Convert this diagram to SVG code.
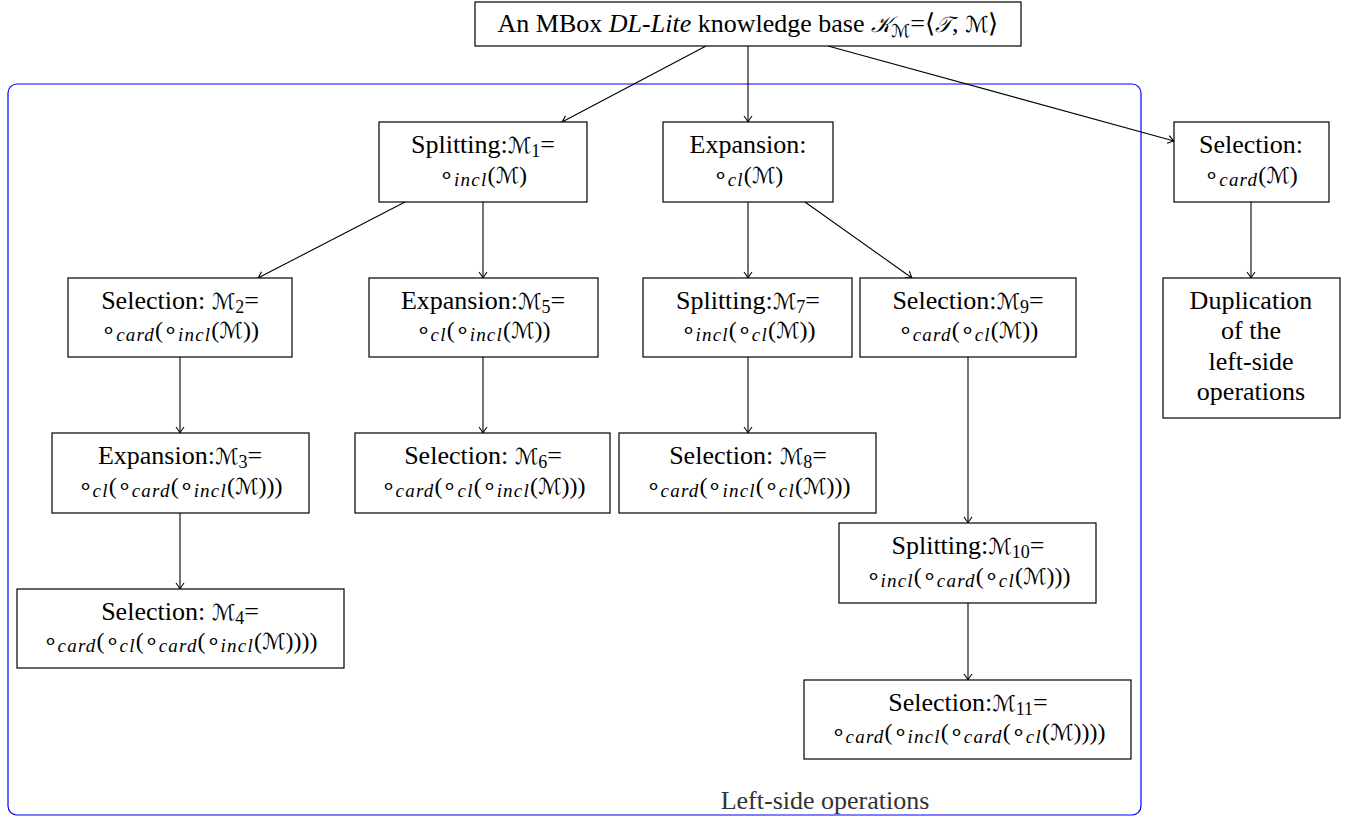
<svg xmlns="http://www.w3.org/2000/svg" width="1351" height="817" viewBox="0 0 1351 817">
<style>
text{font-family:"Liberation Serif",serif}
.box{fill:#fff;stroke:#000;stroke-width:1.2}
.t{font-size:26px;fill:#000;text-anchor:middle}
.m{font-size:24px;fill:#000;text-anchor:middle}
.sb{font-size:19px;font-style:italic;letter-spacing:1.2px}
.mc{font-family:"DejaVu Sans",sans-serif;font-size:22px;font-style:italic}
.ms{font-size:18px}
.conn line{stroke:#000;stroke-width:1.1;marker-end:url(#ah)}
.frame{fill:none;stroke:#0000ff;stroke-width:1.2}
.lbl{font-size:26px;fill:#333;text-anchor:middle}
</style>
<defs>
<marker id="ah" viewBox="-8 -5 10 10" refX="0" refY="0" markerWidth="10" markerHeight="10" orient="auto" markerUnits="userSpaceOnUse">
<path d="M-6,-4 Q-2,-1 0,0 Q-2,1 -6,4" fill="none" stroke="#000" stroke-width="1.1"/>
</marker>
</defs>
<rect width="1351" height="817" fill="#fff"/>
<g id="frame">
<rect class="frame" x="8" y="84" width="1133" height="731" rx="9"/>
<text class="lbl" x="825" y="809">Left-side operations</text>
</g>
<g class="conn" id="connectors">
<line x1="706" y1="46" x2="562" y2="122"/>
<line x1="748" y1="46" x2="748" y2="122"/>
<line x1="828" y1="46" x2="1174" y2="141"/>
<line x1="405" y1="202" x2="258" y2="278"/>
<line x1="483" y1="202" x2="483" y2="278"/>
<line x1="748" y1="202" x2="748" y2="278"/>
<line x1="805" y1="202" x2="912" y2="278"/>
<line x1="180" y1="357" x2="180" y2="433"/>
<line x1="180" y1="513" x2="180" y2="589"/>
<line x1="483" y1="357" x2="483" y2="433"/>
<line x1="748" y1="357" x2="748" y2="433"/>
<line x1="968" y1="357" x2="968" y2="523"/>
<line x1="968" y1="603" x2="968" y2="680"/>
<line x1="1251" y1="202" x2="1251" y2="278"/>
</g>
<g id="root">
<rect class="box" x="475" y="2" width="546" height="44"/>
<text class="t" x="748" y="32">An MBox <tspan font-style="italic">DL-Lite</tspan> knowledge base <tspan class="mc" font-size="24px">𝒦</tspan><tspan class="mc ms" dy="5">ℳ</tspan><tspan dy="-5">=⟨</tspan><tspan class="mc" font-size="24px">𝒯</tspan>, <tspan class="mc" font-size="24px">ℳ</tspan>⟩</text>
</g>
<g id="n1">
<rect class="box" x="379" y="122" width="208" height="80"/>
<text class="t" x="483" y="153">Splitting:<tspan class="mc" font-size="25px">ℳ</tspan><tspan class="ms" dy="4">1</tspan><tspan dy="-4">=</tspan></text>
<text class="m" x="483" y="183">∘<tspan class="sb" dy="3">incl</tspan><tspan dy="-3">(</tspan><tspan class="mc">ℳ</tspan>)</text>
</g>
<g id="nexp">
<rect class="box" x="663" y="122" width="170" height="80"/>
<text class="t" x="748" y="153">Expansion:</text>
<text class="m" x="748" y="183">∘<tspan class="sb" dy="3">cl</tspan><tspan dy="-3">(</tspan><tspan class="mc">ℳ</tspan>)</text>
</g>
<g id="nsel">
<rect class="box" x="1174" y="122" width="155" height="80"/>
<text class="t" x="1251" y="153">Selection:</text>
<text class="m" x="1251" y="183">∘<tspan class="sb" dy="3">card</tspan><tspan dy="-3">(</tspan><tspan class="mc">ℳ</tspan>)</text>
</g>
<g id="ndup">
<rect class="box" x="1163" y="278" width="177" height="140"/>
<text class="t" x="1251" y="309">Duplication</text>
<text class="t" x="1251" y="339">of the</text>
<text class="t" x="1251" y="370">left-side</text>
<text class="t" x="1251" y="400">operations</text>
</g>
<g id="n2">
<rect class="box" x="68" y="278" width="224" height="79"/>
<text class="t" x="180" y="309">Selection: <tspan class="mc" font-size="25px">ℳ</tspan><tspan class="ms" dy="4">2</tspan><tspan dy="-4">=</tspan></text>
<text class="m" x="180" y="338">∘<tspan class="sb" dy="3">card</tspan><tspan dy="-3">(∘</tspan><tspan class="sb" dy="3">incl</tspan><tspan dy="-3">(</tspan><tspan class="mc">ℳ</tspan>))</text>
</g>
<g id="n5">
<rect class="box" x="369" y="278" width="229" height="79"/>
<text class="t" x="483" y="309">Expansion:<tspan class="mc" font-size="25px">ℳ</tspan><tspan class="ms" dy="4">5</tspan><tspan dy="-4">=</tspan></text>
<text class="m" x="483" y="338">∘<tspan class="sb" dy="3">cl</tspan><tspan dy="-3">(∘</tspan><tspan class="sb" dy="3">incl</tspan><tspan dy="-3">(</tspan><tspan class="mc">ℳ</tspan>))</text>
</g>
<g id="n7">
<rect class="box" x="643" y="278" width="209" height="79"/>
<text class="t" x="748" y="309">Splitting:<tspan class="mc" font-size="25px">ℳ</tspan><tspan class="ms" dy="4">7</tspan><tspan dy="-4">=</tspan></text>
<text class="m" x="748" y="338">∘<tspan class="sb" dy="3">incl</tspan><tspan dy="-3">(∘</tspan><tspan class="sb" dy="3">cl</tspan><tspan dy="-3">(</tspan><tspan class="mc">ℳ</tspan>))</text>
</g>
<g id="n9">
<rect class="box" x="860" y="278" width="216" height="79"/>
<text class="t" x="968" y="309">Selection:<tspan class="mc" font-size="25px">ℳ</tspan><tspan class="ms" dy="4">9</tspan><tspan dy="-4">=</tspan></text>
<text class="m" x="968" y="338">∘<tspan class="sb" dy="3">card</tspan><tspan dy="-3">(∘</tspan><tspan class="sb" dy="3">cl</tspan><tspan dy="-3">(</tspan><tspan class="mc">ℳ</tspan>))</text>
</g>
<g id="n3">
<rect class="box" x="52" y="433" width="257" height="80"/>
<text class="t" x="180" y="464">Expansion:<tspan class="mc" font-size="25px">ℳ</tspan><tspan class="ms" dy="4">3</tspan><tspan dy="-4">=</tspan></text>
<text class="m" x="180" y="494">∘<tspan class="sb" dy="3">cl</tspan><tspan dy="-3">(∘</tspan><tspan class="sb" dy="3">card</tspan><tspan dy="-3">(∘</tspan><tspan class="sb" dy="3">incl</tspan><tspan dy="-3">(</tspan><tspan class="mc">ℳ</tspan>)))</text>
</g>
<g id="n6">
<rect class="box" x="355" y="433" width="255" height="80"/>
<text class="t" x="483" y="464">Selection: <tspan class="mc" font-size="25px">ℳ</tspan><tspan class="ms" dy="4">6</tspan><tspan dy="-4">=</tspan></text>
<text class="m" x="483" y="494">∘<tspan class="sb" dy="3">card</tspan><tspan dy="-3">(∘</tspan><tspan class="sb" dy="3">cl</tspan><tspan dy="-3">(∘</tspan><tspan class="sb" dy="3">incl</tspan><tspan dy="-3">(</tspan><tspan class="mc">ℳ</tspan>)))</text>
</g>
<g id="n8">
<rect class="box" x="619" y="433" width="257" height="80"/>
<text class="t" x="748" y="464">Selection: <tspan class="mc" font-size="25px">ℳ</tspan><tspan class="ms" dy="4">8</tspan><tspan dy="-4">=</tspan></text>
<text class="m" x="748" y="494">∘<tspan class="sb" dy="3">card</tspan><tspan dy="-3">(∘</tspan><tspan class="sb" dy="3">incl</tspan><tspan dy="-3">(∘</tspan><tspan class="sb" dy="3">cl</tspan><tspan dy="-3">(</tspan><tspan class="mc">ℳ</tspan>)))</text>
</g>
<g id="n4">
<rect class="box" x="17" y="589" width="327" height="79"/>
<text class="t" x="180" y="620">Selection: <tspan class="mc" font-size="25px">ℳ</tspan><tspan class="ms" dy="4">4</tspan><tspan dy="-4">=</tspan></text>
<text class="m" x="180" y="649">∘<tspan class="sb" dy="3">card</tspan><tspan dy="-3">(∘</tspan><tspan class="sb" dy="3">cl</tspan><tspan dy="-3">(∘</tspan><tspan class="sb" dy="3">card</tspan><tspan dy="-3">(∘</tspan><tspan class="sb" dy="3">incl</tspan><tspan dy="-3">(</tspan><tspan class="mc">ℳ</tspan>))))</text>
</g>
<g id="n10">
<rect class="box" x="839" y="523" width="257" height="80"/>
<text class="t" x="968" y="554">Splitting:<tspan class="mc" font-size="25px">ℳ</tspan><tspan class="ms" dy="4">10</tspan><tspan dy="-4">=</tspan></text>
<text class="m" x="968" y="584">∘<tspan class="sb" dy="3">incl</tspan><tspan dy="-3">(∘</tspan><tspan class="sb" dy="3">card</tspan><tspan dy="-3">(∘</tspan><tspan class="sb" dy="3">cl</tspan><tspan dy="-3">(</tspan><tspan class="mc">ℳ</tspan>)))</text>
</g>
<g id="n11">
<rect class="box" x="804" y="680" width="327" height="79"/>
<text class="t" x="968" y="711">Selection:<tspan class="mc" font-size="25px">ℳ</tspan><tspan class="ms" dy="4">11</tspan><tspan dy="-4">=</tspan></text>
<text class="m" x="968" y="740">∘<tspan class="sb" dy="3">card</tspan><tspan dy="-3">(∘</tspan><tspan class="sb" dy="3">incl</tspan><tspan dy="-3">(∘</tspan><tspan class="sb" dy="3">card</tspan><tspan dy="-3">(∘</tspan><tspan class="sb" dy="3">cl</tspan><tspan dy="-3">(</tspan><tspan class="mc">ℳ</tspan>))))</text>
</g>
</svg>
